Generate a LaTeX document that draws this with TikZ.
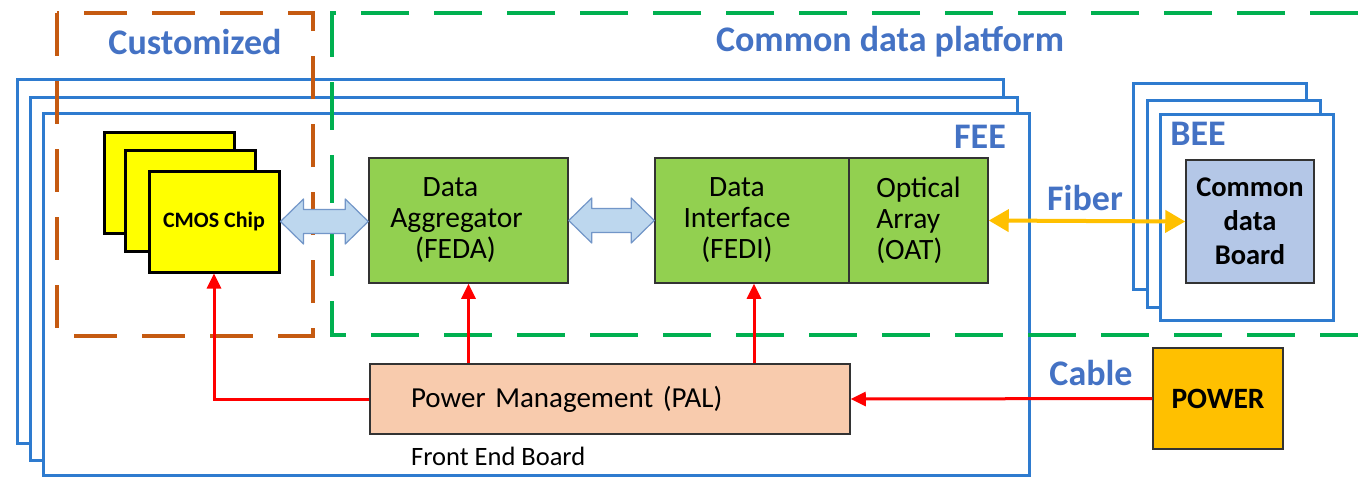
\documentclass[tikz,border=0pt]{standalone}
\usepackage{fontspec}
\setmainfont{Carlito}
\usetikzlibrary{arrows.meta,calc}

\definecolor{labelblue}{HTML}{4472C4}
\definecolor{boardblue}{HTML}{2E7BCF}
\definecolor{custorange}{HTML}{C55A11}
\definecolor{platgreen}{HTML}{00B050}
\definecolor{blockgreen}{HTML}{92D050}
\definecolor{chipyellow}{HTML}{FFFF00}
\definecolor{palpeach}{HTML}{F8CBAD}
\definecolor{cdbblue}{HTML}{B4C7E7}
\definecolor{busblue}{HTML}{BDD7EE}
\definecolor{busedge}{HTML}{7296C8}
\definecolor{powerorange}{HTML}{FFC000}
\definecolor{boxedge}{HTML}{333333}

\tikzset{
  board/.style={draw=boardblue, line width=3pt, fill=white, inner sep=0pt},
  chipbox/.style={draw=black, line width=3pt, fill=chipyellow, inner sep=0pt,
    minimum width=130pt, minimum height=101pt},
  funcbox/.style={draw=boxedge, line width=1.5pt, fill=blockgreen, inner sep=0pt,
    minimum height=125pt, align=center, font=\fontsize{29.5}{31}\selectfont},
  grouplabel/.style={text=labelblue, font=\fontsize{36}{40}\selectfont\bfseries, inner sep=0pt},
  boldtext/.style={font=\fontsize{28.5}{34}\selectfont\bfseries, align=center},
  power/.style={red, line width=3pt, -{Triangle[length=15pt,width=14pt]}},
  bus/.style={draw=busedge, fill=busblue, line width=1.2pt, line join=round},
}

\begin{document}
\begin{tikzpicture}[x=1pt, y=-1pt]
\useasboundingbox (0,0) rectangle (1358,477);

% Front end boards (stacked)
\node[board, minimum width=986pt, minimum height=364pt] (fee1) at (510,261) {};
\node[board, minimum width=987pt, minimum height=363pt] (fee2) at (523.5,278.5) {};
\node[board, minimum width=986pt, minimum height=362pt] (fee3) at (536,294) {};

% Back end boards (stacked)
\node[board, minimum width=173pt, minimum height=206pt] (bee1) at (1219.5,186) {};
\node[board, minimum width=173pt, minimum height=207pt] (bee2) at (1233.5,203.5) {};
\node[board, minimum width=173pt, minimum height=206pt] (bee3) at (1246.5,217) {};

% Customized / common platform regions
\draw[custorange, line width=4pt, dash pattern=on 43pt off 25pt]
  (57,13) rectangle (313,336);
\draw[platgreen, line width=4pt, dash pattern=on 48pt off 25pt]
  (1358,13) -- (332,13) -- (332,335) -- (1358,335);

% Region labels
\node[grouplabel] (lcust) at (195,42) {Customized};
\node[grouplabel] (lplat) at (890,42) {Common data platform};
\node[grouplabel] (lfee) at (980,137) {FEE};
\node[grouplabel] (lbee) at (1198,134) {BEE};
\node[grouplabel] (lfiber) at (1085,198) {Fiber};
\node[grouplabel] (lcable) at (1091,373) {Cable};

% CMOS chips
\node[chipbox] (chip1) at (169,182.5) {};
\node[chipbox] (chip2) at (190.5,200.5) {};
\node[chipbox, font=\fontsize{22}{24}\selectfont\bfseries] (chip3) at (214,221.5) {CMOS Chip};

% Functional blocks
\node[funcbox, minimum width=199pt] (feda) at (468.5,220.5)
  {\hspace*{-36pt}Data\\\hspace*{-24pt}Aggregator\\\hspace*{-26pt}(FEDA)};
\node[funcbox, minimum width=194pt] (fedi) at (752,220.5)
  {\hspace*{-30pt}Data\\\hspace*{-30pt}Interface\\\hspace*{-30pt}(FEDI)};
\node[funcbox, minimum width=139pt, align=left] (oat) at (918.5,220.5) {Optical\\Array\\(OAT)};

\node[draw=boxedge, line width=1.5pt, fill=palpeach, inner ysep=0pt, inner xsep=41pt,
  minimum height=70pt, text width=398pt, align=left,
  font=\fontsize{29}{32}\selectfont] (pal) at (610,399) {Power Management (PAL)};
\node[anchor=west, inner sep=0pt, font=\fontsize{26.5}{30}\selectfont] (feb) at (411,456) {Front End Board};

% Back end board contents and power supply
\node[draw=boxedge, line width=1.5pt, fill=cdbblue, minimum width=128pt, minimum height=123pt,
  inner sep=0pt, boldtext] (cdb) at (1250,221.5) {Common\\data\\Board};
\node[draw=boxedge, line width=1.5pt, fill=powerorange, minimum width=130pt, minimum height=101pt,
  inner sep=0pt, font=\fontsize{29.5}{32}\selectfont\bfseries] (pwr) at (1218,398.5) {POWER};

% Data buses (wide double arrows)
\foreach \a/\b in {chip3/feda, feda/fedi}{
  \draw[bus] let \p1=(\a.east), \p2=(\b.west) in
    (\x1,\y1) -- (\x1+23pt,\y1+22.5pt) -- (\x1+23pt,\y1+12pt) -- (\x2-23pt,\y1+12pt)
    -- (\x2-23pt,\y1+22.5pt) -- (\x2,\y1) -- (\x2-23pt,\y1-22.5pt) -- (\x2-23pt,\y1-12pt)
    -- (\x1+23pt,\y1-12pt) -- (\x1+23pt,\y1-22.5pt) -- cycle;
}

% Fiber link
\draw[powerorange, line width=4pt, {Triangle[length=20pt,width=22pt]}-{Triangle[length=20pt,width=22pt]}]
  (oat.east) -- (cdb.west);

% Power distribution
\draw[power] (pwr.west) -- (pal.east);
\draw[power] (pal.west) -| (chip3.south);
\draw[power] (feda.south |- pal.north) -- (feda.south);
\draw[power] ([xshift=2pt]fedi.south |- pal.north) -- ([xshift=2pt]fedi.south);
\end{tikzpicture}
\end{document}
